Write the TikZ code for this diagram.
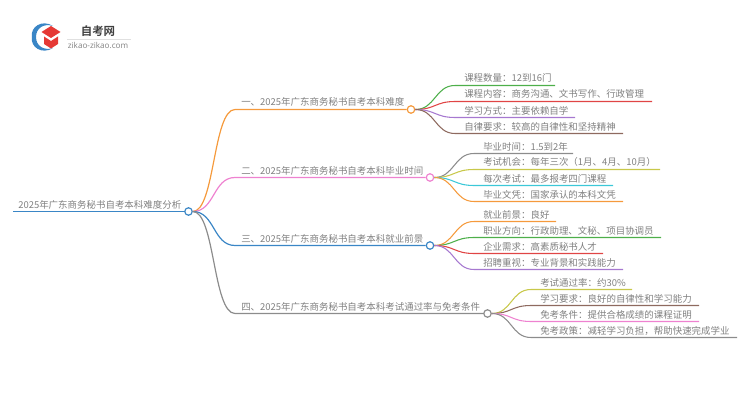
\documentclass[tikz,border=0pt]{standalone}
\usepackage{fontspec}
\setmainfont{Noto Sans CJK SC}[BoldFont={Noto Sans CJK SC Bold}]
\newfontfamily\latinfont{Open Sans}
\usepackage{tikz}
\definecolor{lineorange}{HTML}{F59A3C}
\definecolor{linepink}{HTML}{EE82D0}
\definecolor{lineblue}{HTML}{3A86C6}
\definecolor{linegray}{HTML}{8C8C8C}
\definecolor{linegreen}{HTML}{4DAF4A}
\definecolor{linered}{HTML}{E04545}
\definecolor{linepurple}{HTML}{A678D0}
\definecolor{linebrown}{HTML}{8E6A5F}
\definecolor{lineyellow}{HTML}{C8C84A}
\definecolor{linecyan}{HTML}{3CC8D8}
\definecolor{logored}{HTML}{E53935}
\definecolor{textgray}{HTML}{808080}
\tikzset{
  leaf/.style={anchor=base west, inner sep=0, text=textgray, font=\fontsize{7.1pt}{8pt}\selectfont},
  dot/.style={circle, draw, fill=white, line width=0.9pt, minimum size=5.6pt, inner sep=0},
  branch/.style={line width=0.9pt},
  twig/.style={line width=0.8pt}
}
\begin{document}
\begin{tikzpicture}[x=0.75pt, y=-0.75pt]
      \useasboundingbox (0, 0) rectangle (750, 410);
      % logo
      \fill [lineblue] (53, 26) .. controls (42, 19) and (30, 27) .. (32, 37)
                       .. controls (30, 47) and (42, 55) .. (53, 48)
                       .. controls (44, 51) and (36, 46) .. (36, 37)
                       .. controls (36, 28) and (44, 23) .. cycle;
      \fill [logored] (41.5, 32) -- (51, 26) -- (60.5, 32) -- (51, 38) -- cycle
                      (44, 36.5) -- (51, 41) -- (58, 36.5) -- (58, 44) -- (51, 48.5) -- (44, 44) -- cycle;
      \node (logotitle) [inner sep=0, text=black!75, font=\fontsize{8.6pt}{10pt}\selectfont\bfseries] at (98, 31) {自考网};
      \node (logourl) [inner sep=0, text=textgray, font=\latinfont\fontsize{6.1pt}{7pt}\selectfont] at (98, 45) {zikao-zikao.com};
      \coordinate (logoa) at (67, 39);
      \coordinate (logob) at (131, 39);
      \draw [black!12, line width=0.5pt] (logoa) -- (logob);

      % main nodes
      \coordinate (start) at (13, 211.5);
      \node (root) [dot, draw=lineblue] at (188.5, 211.5) {};
      \node (one) [dot, draw=lineorange] at (411, 109.5) {};
      \node (two) [dot, draw=linepink] at (430, 177.5) {};
      \node (three) [dot, draw=lineblue] at (430, 245.5) {};
      \node (four) [dot, draw=linegray] at (487.5, 313.5) {};
      \node (roottext) [leaf] at (18, 208) {2025年广东商务秘书自考本科难度分析};
      \node (onetext) [leaf] at (241, 106) {一、2025年广东商务秘书自考本科难度};
      \node (twotext) [leaf] at (241, 174) {二、2025年广东商务秘书自考本科毕业时间};
      \node (threetext) [leaf] at (241, 242) {三、2025年广东商务秘书自考本科就业前景};
      \node (fourtext) [leaf] at (241, 310) {四、2025年广东商务秘书自考本科考试通过率与免考条件};

      % bends of the main branches
      \coordinate (onea) at (235, 109.5);
      \coordinate (twoa) at (235, 177.5);
      \coordinate (threea) at (235, 245.5);
      \coordinate (foura) at (235, 313.5);
      \draw [branch, lineblue, line width=1.1pt] (start) -- (root);
      \draw [branch, lineorange] (root.east) .. controls +(22, 0) and +(-22, 0) .. (onea) -- (one);
      \draw [branch, linepink] (root.east) .. controls +(22, 0) and +(-22, 0) .. (twoa) -- (two);
      \draw [branch, lineblue] (root.east) .. controls +(22, 0) and +(-22, 0) .. (threea) -- (three);
      \draw [branch, linegray] (root.east) .. controls +(22, 0) and +(-22, 0) .. (foura) -- (four);

      % first group
      \node (onep) [leaf] at (464, 82) {课程数量：12到16门};
      \node (oneq) [leaf] at (464, 98) {课程内容：商务沟通、文书写作、行政管理};
      \node (oner) [leaf] at (464, 114) {学习方式：主要依赖自学};
      \node (ones) [leaf] at (464, 130) {自律要求：较高的自律性和坚持精神};
      \coordinate (onepa) at (455, 85.5);
      \coordinate (onepb) at (555, 85.5);
      \coordinate (oneqa) at (455, 101.5);
      \coordinate (oneqb) at (652, 101.5);
      \coordinate (onera) at (455, 117.5);
      \coordinate (onerb) at (575, 117.5);
      \coordinate (onesa) at (455, 133.5);
      \coordinate (onesb) at (623, 133.5);
      \draw [twig, linegreen] (one.east) .. controls +(20, 0) and +(-20, 0) .. (onepa) -- (onepb);
      \draw [twig, linered] (one.east) .. controls +(20, 0) and +(-20, 0) .. (oneqa) -- (oneqb);
      \draw [twig, linepurple] (one.east) .. controls +(20, 0) and +(-20, 0) .. (onera) -- (onerb);
      \draw [twig, linebrown] (one.east) .. controls +(20, 0) and +(-20, 0) .. (onesa) -- (onesb);

      % second group
      \node (twop) [leaf] at (483, 150) {毕业时间：1.5到2年};
      \node (twoq) [leaf] at (483, 166) {考试机会：每年三次（1月、4月、10月）};
      \node (twor) [leaf] at (483, 182) {每次考试：最多报考四门课程};
      \node (twos) [leaf] at (483, 198) {毕业文凭：国家承认的本科文凭};
      \coordinate (twopa) at (474, 153.5);
      \coordinate (twopb) at (573, 153.5);
      \coordinate (twoqa) at (474, 169.5);
      \coordinate (twoqb) at (660, 169.5);
      \coordinate (twora) at (474, 185.5);
      \coordinate (tworb) at (613, 185.5);
      \coordinate (twosa) at (474, 201.5);
      \coordinate (twosb) at (623, 201.5);
      \draw [twig, linegray] (two.east) .. controls +(20, 0) and +(-20, 0) .. (twopa) -- (twopb);
      \draw [twig, lineyellow] (two.east) .. controls +(20, 0) and +(-20, 0) .. (twoqa) -- (twoqb);
      \draw [twig, linecyan] (two.east) .. controls +(20, 0) and +(-20, 0) .. (twora) -- (tworb);
      \draw [twig, lineorange] (two.east) .. controls +(20, 0) and +(-20, 0) .. (twosa) -- (twosb);

      % third group
      \node (threep) [leaf] at (483, 218) {就业前景：良好};
      \node (threeq) [leaf] at (483, 234) {职业方向：行政助理、文秘、项目协调员};
      \node (threer) [leaf] at (483, 250) {企业需求：高素质秘书人才};
      \node (threes) [leaf] at (483, 266) {招聘重视：专业背景和实践能力};
      \coordinate (threepa) at (474, 221.5);
      \coordinate (threepb) at (556, 221.5);
      \coordinate (threeqa) at (474, 237.5);
      \coordinate (threeqb) at (661, 237.5);
      \coordinate (threera) at (474, 253.5);
      \coordinate (threerb) at (603, 253.5);
      \coordinate (threesa) at (474, 269.5);
      \coordinate (threesb) at (623, 269.5);
      \draw [twig, lineorange] (three.east) .. controls +(20, 0) and +(-20, 0) .. (threepa) -- (threepb);
      \draw [twig, linegreen] (three.east) .. controls +(20, 0) and +(-20, 0) .. (threeqa) -- (threeqb);
      \draw [twig, linered] (three.east) .. controls +(20, 0) and +(-20, 0) .. (threera) -- (threerb);
      \draw [twig, linepurple] (three.east) .. controls +(20, 0) and +(-20, 0) .. (threesa) -- (threesb);

      % fourth group
      \node (fourp) [leaf] at (540, 286) {考试通过率：约30\%};
      \node (fourq) [leaf] at (540, 302) {学习要求：良好的自律性和学习能力};
      \node (fourr) [leaf] at (540, 318) {免考条件：提供合格成绩的课程证明};
      \node (fours) [leaf] at (540, 334) {免考政策：减轻学习负担，帮助快速完成学业};
      \coordinate (fourpa) at (531, 289.5);
      \coordinate (fourpb) at (632, 289.5);
      \coordinate (fourqa) at (531, 305.5);
      \coordinate (fourqb) at (699, 305.5);
      \coordinate (fourra) at (531, 321.5);
      \coordinate (fourrb) at (699, 321.5);
      \coordinate (foursa) at (531, 337.5);
      \coordinate (foursb) at (737, 337.5);
      \draw [twig, lineyellow] (four.east) .. controls +(20, 0) and +(-20, 0) .. (fourpa) -- (fourpb);
      \draw [twig, linebrown] (four.east) .. controls +(20, 0) and +(-20, 0) .. (fourqa) -- (fourqb);
      \draw [twig, linepink] (four.east) .. controls +(20, 0) and +(-20, 0) .. (fourra) -- (fourrb);
      \draw [twig, linegray] (four.east) .. controls +(20, 0) and +(-20, 0) .. (foursa) -- (foursb);
\end{tikzpicture}
\end{document}
